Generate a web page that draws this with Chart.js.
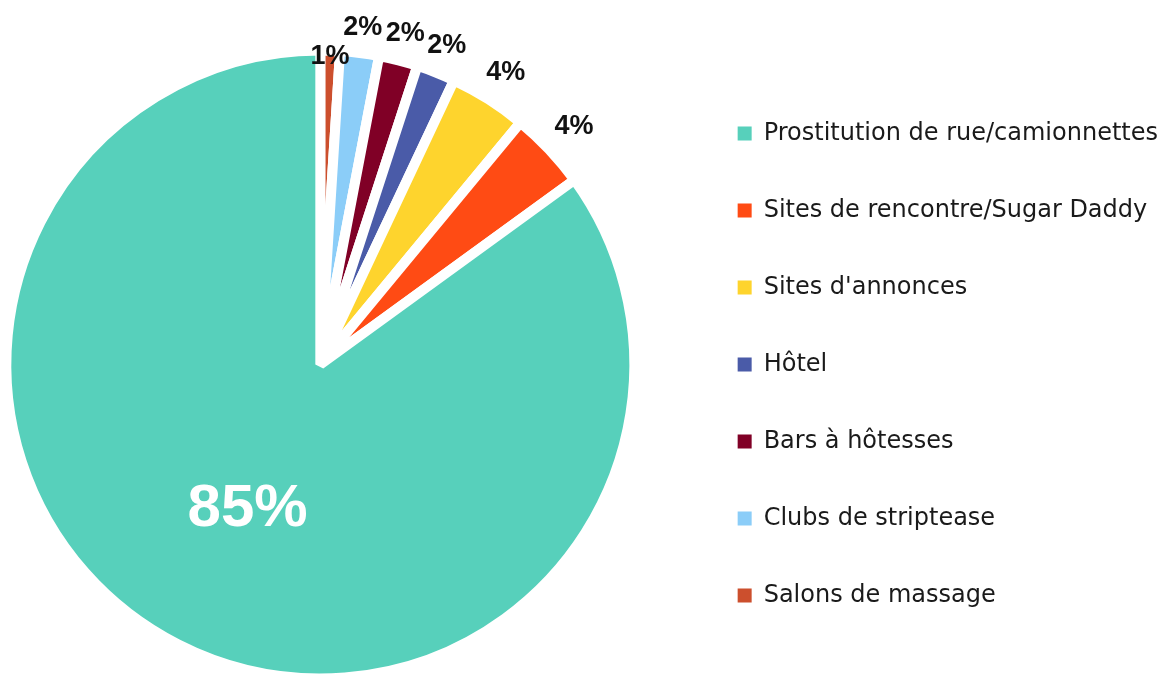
<!DOCTYPE html>
<html>
<head>
<meta charset="utf-8">
<script src="https://cdn.jsdelivr.net/npm/chart.js@4.4.1/dist/chart.umd.min.js"></script>
<style>
  html, body { margin: 0; padding: 0; background: #ffffff; overflow: hidden; }
  #wrap { position: relative; width: 1161px; height: 677px; overflow: hidden; background: #ffffff; }
  #c { position: absolute; left: -44px; top: 0; }
</style>
</head>
<body>
<div id="wrap"><canvas id="c"></canvas></div>
<script>
// Slices in drawing order, clockwise from 12 o'clock (legend shows them reversed)
const categories = [
  'Salons de massage',
  'Clubs de striptease',
  'Bars à hôtesses',
  'Hôtel',
  "Sites d'annonces",
  'Sites de rencontre/Sugar Daddy',
  'Prostitution de rue/camionnettes'
];
const shares = [1, 2, 2, 2, 4, 4, 85];
const sliceColors = ['#CC4F2D', '#8BCDF8', '#800026', '#4A5BA8', '#FED42D', '#FF4B14', '#57D0BB'];

const LEGEND_FAMILY = "'DejaVu Sans', sans-serif";
const LEGEND_SIZE = 24;
const LEGEND_PAD = 53;
const BOX = 14;
const LABEL_FAMILY = "'Liberation Sans', Arial, sans-serif";

// size the canvas so the legend text starts at x=763 and the pie centre sits at x=320
const mctx = document.createElement('canvas').getContext('2d');
mctx.font = LEGEND_SIZE + 'px ' + LEGEND_FAMILY;
const maxText = Math.max(...categories.map(t => mctx.measureText(t).width));
const canvas = document.getElementById('c');
canvas.width = Math.ceil(817 + maxText);
canvas.height = 695;

const pctLabels = {
  id: 'pctLabels',
  afterDatasetsDraw(chart) {
    const meta = chart.getDatasetMeta(0);
    const ctx = chart.ctx;
    const total = shares.reduce((a, b) => a + b, 0);
    const placed = [];
    const mx = 1, my = 9;
    ctx.save();
    ctx.textAlign = 'center';
    ctx.textBaseline = 'middle';
    for (let i = meta.data.length - 1; i >= 0; i--) {
      const arc = meta.data[i];
      const p = arc.getProps(['x', 'y', 'startAngle', 'endAngle', 'outerRadius'], true);
      const mid = (p.startAngle + p.endAngle) / 2;
      const cs = Math.cos(mid), sn = Math.sin(mid);
      const pct = Math.round(shares[i] / total * 100);
      const text = pct + '%';
      if (pct >= 50) {
        ctx.font = 'bold 60px ' + LABEL_FAMILY;
        ctx.fillStyle = '#ffffff';
        const r = p.outerRadius * 0.51;
        ctx.fillText(text, p.x + cs * r, p.y + sn * r + 2);
      } else {
        ctx.font = 'bold 27px ' + LABEL_FAMILY;
        ctx.fillStyle = '#111111';
        const w = ctx.measureText(text).width;
        const h = 20;
        let r = p.outerRadius + Math.abs(cs) * w / 2 + Math.abs(sn) * h / 2 + 13;
        const boxAt = (rr) => {
          const cx = p.x + cs * rr, cy = p.y + sn * rr;
          return { cx, cy, l: cx - w / 2, r: cx + w / 2, t: cy - h / 2, b: cy + h / 2 };
        };
        let b = boxAt(r);
        const hits = (bx) => placed.some(o => bx.l < o.r + mx && bx.r > o.l - mx && bx.t < o.b + my && bx.b > o.t - my);
        let guard = 0;
        while (hits(b) && guard < 200) { r -= 1; b = boxAt(r); guard++; }
        placed.push(b);
        ctx.fillText(text, b.cx, b.cy);
      }
    }
    ctx.restore();
  }
};

new Chart(canvas, {
  type: 'pie',
  data: {
    labels: categories,
    datasets: [{
      data: shares,
      backgroundColor: sliceColors,
      borderColor: '#ffffff',
      borderWidth: 10,
      hoverOffset: 0,
      hoverBorderWidth: 10
    }]
  },
  options: {
    responsive: false,
    animation: false,
    events: [],
    rotation: 0,
    radius: 314,
    layout: { padding: { top: 34, left: 0, right: 0, bottom: 0 } },
    plugins: {
      tooltip: { enabled: false },
      legend: {
        position: 'right',
        align: 'center',
        reverse: true,
        labels: {
          font: { family: LEGEND_FAMILY, size: LEGEND_SIZE },
          color: '#1a1a1a',
          boxWidth: BOX,
          boxHeight: BOX,
          padding: LEGEND_PAD,
          generateLabels(chart) {
            const ds = chart.data.datasets[0];
            return chart.data.labels.map((t, i) => ({
              text: t,
              fillStyle: ds.backgroundColor[i],
              strokeStyle: ds.backgroundColor[i],
              lineWidth: 0,
              fontColor: '#1a1a1a',
              hidden: false,
              index: i
            }));
          }
        }
      }
    }
  },
  plugins: [pctLabels]
});
</script>
</body>
</html>
